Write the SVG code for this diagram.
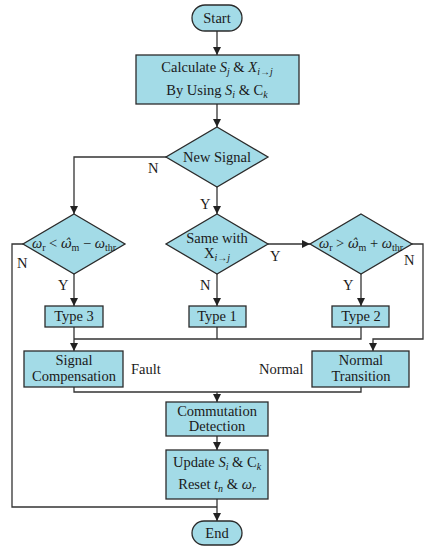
<svg xmlns="http://www.w3.org/2000/svg" width="431" height="550" viewBox="0 0 431 550">
<defs>
<marker id="arr" viewBox="0 0 8 8" refX="8" refY="4" markerWidth="8" markerHeight="8" markerUnits="userSpaceOnUse" orient="auto">
<path d="M0,0 L8,4 L0,8 Z" fill="#222"/>
</marker>
</defs>
<style>
.n{fill:#a3dbe7;stroke:#2b2b2b;stroke-width:1.3}
.t{font-family:"Liberation Serif","DejaVu Serif",serif;font-size:14.5px;fill:#1a1a1a;text-anchor:middle}
.l{font-family:"Liberation Serif","DejaVu Serif",serif;font-size:14.5px;fill:#1a1a1a}
.c{fill:none;stroke:#333;stroke-width:1.3}
.i{font-style:italic}
.s{font-size:10px}
.h{font-family:"DejaVu Serif",serif;font-size:13px}
</style>
<rect width="431" height="550" fill="#fff"/>
<g id="connectors">
<path class="c" d="M217,31 V55" marker-end="url(#arr)"/>
<path class="c" d="M217,104 V127" marker-end="url(#arr)"/>
<path class="c" d="M167,157 H74 V214" marker-end="url(#arr)"/>
<path class="c" d="M217,187 V214" marker-end="url(#arr)"/>
<path class="c" d="M268,244 H310" marker-end="url(#arr)"/>
<path class="c" d="M74,274 V306" marker-end="url(#arr)"/>
<path class="c" d="M217,274 V306" marker-end="url(#arr)"/>
<path class="c" d="M361,274 V306" marker-end="url(#arr)"/>
<path class="c" d="M23,244 H12 V507 H217"/>
<path class="c" d="M412,244 H423 V339 H373 V351" marker-end="url(#arr)"/>
<path class="c" d="M74,327 V351" marker-end="url(#arr)"/>
<path class="c" d="M217,327 V339 M361,327 V339 H74"/>
<path class="c" d="M74,387 V392 H361 V387"/>
<path class="c" d="M217,392 V402" marker-end="url(#arr)"/>
<path class="c" d="M217,436 V450" marker-end="url(#arr)"/>
<path class="c" d="M217,499 V521" marker-end="url(#arr)"/>
<text class="l" x="148" y="173">N</text>
<text class="l" x="200" y="209">Y</text>
<text class="l" x="270" y="261">Y</text>
<text class="l" x="17" y="268">N</text>
<text class="l" x="404" y="265">N</text>
<text class="l" x="58" y="290">Y</text>
<text class="l" x="200" y="290">N</text>
<text class="l" x="343" y="290">Y</text>
<text class="l" x="131" y="374">Fault</text>
<text class="l" x="259" y="374">Normal</text>
</g>
<g id="start">
<rect class="n" x="192" y="5" width="50" height="26" rx="13"/>
<text class="t" x="217" y="23">Start</text>
</g>
<g id="calculate">
<rect class="n" x="136" y="55" width="163" height="49"/>
<text class="t" x="217" y="72">Calculate <tspan class="i">S</tspan><tspan class="i s" dy="3">j</tspan><tspan dy="-3"> &amp; </tspan><tspan class="i">X</tspan><tspan class="i s" dy="3">i→j</tspan></text>
<text class="t" x="217" y="95">By Using <tspan class="i">S</tspan><tspan class="i s" dy="3">i</tspan><tspan dy="-3"> &amp; C</tspan><tspan class="i s" dy="3">k</tspan></text>
</g>
<g id="newsignal">
<polygon class="n" points="217,127 268,157 217,187 166,157"/>
<text class="t" x="217" y="162">New Signal</text>
</g>
<g id="cond-left">
<polygon class="n" points="74,214 125,244 74,274 23,244"/>
<text class="t" x="74" y="248"><tspan class="i">ω</tspan><tspan class="s" dy="3">r</tspan><tspan dy="-3"> &lt; </tspan><tspan class="i h">ω̂</tspan><tspan class="s" dy="3">m</tspan><tspan dy="-3"> − </tspan><tspan class="i">ω</tspan><tspan class="s" dy="3">thr</tspan></text>
</g>
<g id="samewith">
<polygon class="n" points="217,214 268,244 217,274 166,244"/>
<text class="t" x="217" y="243">Same with</text>
<text class="t" x="217" y="258">X<tspan class="i s" dy="3">i→j</tspan></text>
</g>
<g id="cond-right">
<polygon class="n" points="361,214 412,244 361,274 310,244"/>
<text class="t" x="361" y="248"><tspan class="i">ω</tspan><tspan class="s" dy="3">r</tspan><tspan dy="-3"> &gt; </tspan><tspan class="i h">ω̂</tspan><tspan class="s" dy="3">m</tspan><tspan dy="-3"> + </tspan><tspan class="i">ω</tspan><tspan class="s" dy="3">thr</tspan></text>
</g>
<g id="type3">
<rect class="n" x="45" y="306" width="58" height="21"/>
<text class="t" x="74" y="321">Type 3</text>
</g>
<g id="type1">
<rect class="n" x="189" y="306" width="57" height="21"/>
<text class="t" x="217" y="321">Type 1</text>
</g>
<g id="type2">
<rect class="n" x="332" y="306" width="57" height="21"/>
<text class="t" x="361" y="321">Type 2</text>
</g>
<g id="signalcomp">
<rect class="n" x="24" y="351" width="99" height="36"/>
<text class="t" x="74" y="365">Signal</text>
<text class="t" x="74" y="381">Compensation</text>
</g>
<g id="normaltrans">
<rect class="n" x="312" y="351" width="97" height="36"/>
<text class="t" x="361" y="365">Normal</text>
<text class="t" x="361" y="381">Transition</text>
</g>
<g id="commutation">
<rect class="n" x="166" y="402" width="102" height="34"/>
<text class="t" x="217" y="416">Commutation</text>
<text class="t" x="217" y="431">Detection</text>
</g>
<g id="update">
<rect class="n" x="166" y="450" width="102" height="49"/>
<text class="t" x="217" y="467">Update <tspan class="i">S</tspan><tspan class="i s" dy="3">i</tspan><tspan dy="-3"> &amp; C</tspan><tspan class="i s" dy="3">k</tspan></text>
<text class="t" x="217" y="489">Reset <tspan class="i">t</tspan><tspan class="i s" dy="3">n</tspan><tspan dy="-3"> &amp; </tspan><tspan class="i">ω</tspan><tspan class="i s" dy="3">r</tspan></text>
</g>
<g id="end">
<rect class="n" x="192" y="521" width="50" height="24" rx="12"/>
<text class="t" x="217" y="538">End</text>
</g>
</svg>
